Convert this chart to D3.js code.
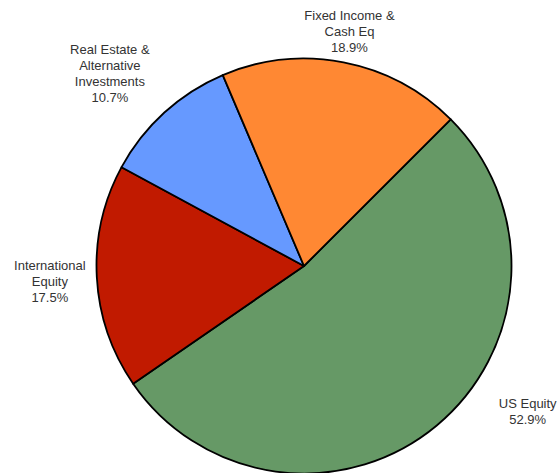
<!DOCTYPE html>
<html>
<head>
<meta charset="utf-8">
<script src="https://cdn.jsdelivr.net/npm/d3@7"></script>
<style>
  html, body { margin: 0; padding: 0; background: #fff; }
  svg { display: block; }
</style>
</head>
<body>
<svg id="chart" width="560" height="473"></svg>
<script>
// ---- data ----
const categories = ["US Equity", "International Equity", "Real Estate & Alternative Investments", "Fixed Income & Cash Eq"];
const labelLines = [["US Equity"], ["International", "Equity"], ["Real Estate &", "Alternative", "Investments"], ["Fixed Income &", "Cash Eq"]];
const values = [52.9, 17.5, 10.7, 18.9];
const colors = ["#669966", "#c11a00", "#6699ff", "#ff8833"];

// ---- layout ----
const W = 560, H = 473;
const cx = 304, cy = 266, R = 207.5;
const startAngle = Math.PI / 4;
const labelGap = 10;
const lineH = 16;
const labelNudge = [[65, -45], [0, 2], [-14, 5], [-2, 10]];

const svg = d3.select("#chart");
const g = svg.append("g").attr("transform", `translate(${cx},${cy})`);

const pie = d3.pie().sort(null).value(d => d.value)
  .startAngle(startAngle).endAngle(startAngle + 2 * Math.PI);
const data = categories.map((c, i) => ({ cat: c, value: values[i], color: colors[i], lines: labelLines[i], i }));
const arcs = pie(data);
const arc = d3.arc().innerRadius(0).outerRadius(R);

g.selectAll("path.slice").data(arcs).enter().append("path")
  .attr("class", "slice")
  .attr("d", arc)
  .attr("fill", d => d.data.color)
  .attr("stroke", "#000")
  .attr("stroke-width", 1.8)
  .attr("stroke-linejoin", "round");

const labels = g.selectAll("text.lbl").data(arcs).enter().append("text")
  .attr("class", "lbl")
  .attr("text-anchor", "middle")
  .attr("font-family", "Liberation Sans, Arial, sans-serif")
  .attr("font-size", 13)
  .attr("fill", "#333");

labels.each(function (d) {
  const t = d3.select(this);
  const lines = d.data.lines.concat([d.data.value.toFixed(1) + "%"]);
  const n = lines.length;
  lines.forEach((l, k) => {
    t.append("tspan").attr("x", 0)
      .attr("y", (k - (n - 1) / 2) * lineH)
      .attr("dy", "0.35em")
      .text(l);
  });
  const bb = this.getBBox();
  const mid = (d.startAngle + d.endAngle) / 2;
  const ux = Math.sin(mid), uy = -Math.cos(mid);
  const support = Math.abs(ux) * bb.width / 2 + Math.abs(uy) * bb.height / 2;
  const dist = R + labelGap + support;
  const nx = labelNudge[d.data.i];
  const px = ux * dist + nx[0], py = uy * dist + nx[1];
  t.attr("transform", `translate(${px},${py})`);
});
</script>
</body>
</html>
